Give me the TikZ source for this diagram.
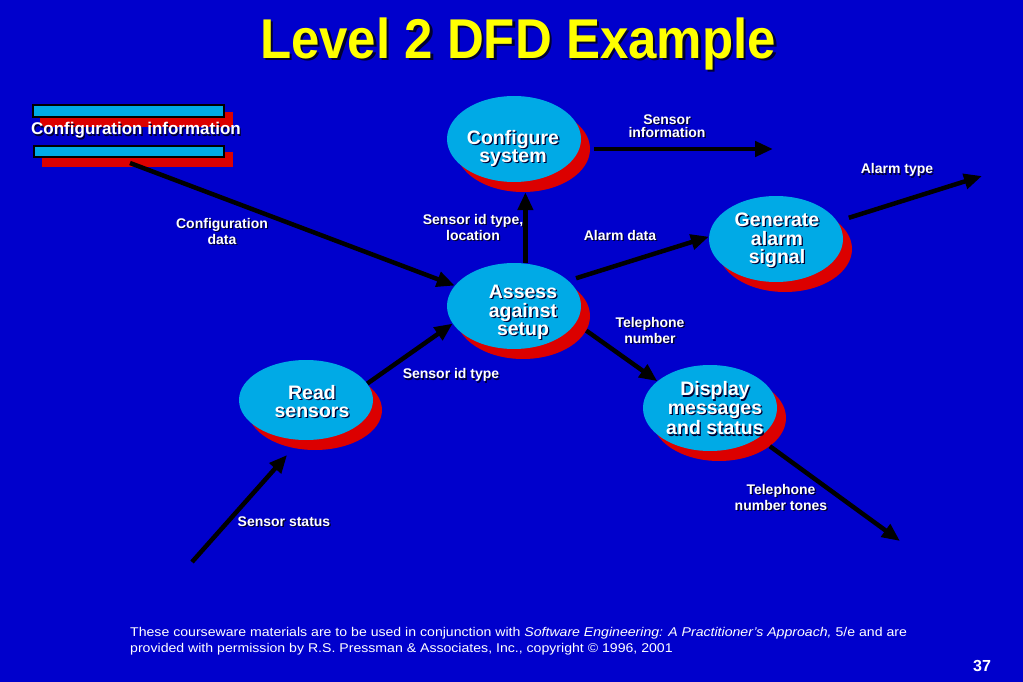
\documentclass[tikz,border=0pt]{standalone}
\usepackage{fontspec}
\setmainfont{Liberation Sans}
\usetikzlibrary{arrows.meta,shapes.geometric,calc}
\definecolor{bg}{RGB}{0,0,204}
\definecolor{procfill}{RGB}{0,170,230}
\definecolor{shadowred}{RGB}{220,0,0}
\definecolor{txtshade}{RGB}{0,0,50}
\definecolor{titleyellow}{RGB}{255,255,0}
\newcommand\shtxt[2][1.3pt]{\rlap{\kern#1\raisebox{-#1}{\textcolor{txtshade}{#2}}}#2}
\begin{document}
\begin{tikzpicture}[x=1pt,y=-1pt,
  proc/.style={ellipse,fill=procfill,minimum width=134pt,minimum height=86pt,inner sep=0pt},
  procsh/.style={ellipse,fill=shadowred,minimum width=134pt,minimum height=86pt,inner sep=0pt},
  proctext/.style={text=white,font=\bfseries\fontsize{19.5}{18.5}\selectfont,align=center,inner sep=0pt},
  flowlbl/.style={text=white,font=\bfseries\fontsize{14}{13}\selectfont,align=center,inner sep=0pt},
  flow/.style={line width=4.5pt,draw=black,-{Triangle[length=18pt,width=15pt]}},
  storebar/.style={fill=procfill,draw=black,line width=2pt},
  storesh/.style={fill=shadowred}]
\fill[bg] (0,0) rectangle (1023,682);
\useasboundingbox (0,0) rectangle (1023,682);

% title
\node[text=titleyellow,font=\bfseries\fontsize{51}{51}\selectfont,inner sep=0pt] (title) at (518,45) {\scalebox{1}[1.1]{\shtxt[2.5pt]{Level 2 DFD Example}}};

% data store
\fill[storesh] (40,112) rectangle (233,127);
\draw[storebar] (33,105) rectangle (224,117);
\fill[storesh] (42,152) rectangle (233,167);
\draw[storebar] (34,146) rectangle (224,157);
\node[text=white,font=\bfseries\fontsize{17}{17}\selectfont,inner sep=0pt] (storetext) at (136,131) {\shtxt{Configuration information}};
\coordinate (storeout) at (130,163);

% process shadows
\node[procsh] (cfgsh) at (523,149) {};
\node[procsh] (assesssh) at (523,316) {};
\node[procsh] (gensh) at (785,249) {};
\node[procsh] (dispsh) at (719,418) {};
\node[procsh,minimum height=80pt] (readsh) at (315,410) {};

% processes
\node[proc] (cfg) at (514,139) {};
\node[proc] (assess) at (514,306) {};
\node[proc] (gen) at (776,239) {};
\node[proc] (disp) at (710,408) {};
\node[proc,minimum height=80pt] (read) at (306,400) {};

\node[proctext] (cfgt) at (513,149) {\shtxt{Configure}\\\shtxt{system}};
\node[proctext] (assesst) at (523,313) {\shtxt{Assess}\\\shtxt{against}\\\shtxt{setup}};
\node[proctext] (gent) at (777,241) {\shtxt{Generate}\\\shtxt{alarm}\\\shtxt{signal}};
\node[proctext] (dispt) at (715,409) {\shtxt{Display}\\\shtxt{messages}\\\shtxt{and status}};
\node[proctext] (readt) at (312,402) {\shtxt{Read}\\\shtxt{sensors}};

% free ends
\coordinate (sinfoend) at (773,149);
\coordinate (alarmend) at (982,176);
\coordinate (toneend) at (900,541);
\coordinate (statusstart) at (192,562);

% flows
\draw[flow] (storeout) -- (assess.161);
\draw[flow] (read.15) -- (assess.196);
\draw[flow,shorten >=20pt] (statusstart) -- (read.262);
\draw[flow] (assess.75) -- (assess.75 |- cfgsh.south);
\draw[flow,shorten <=4pt] (cfgsh.east) -- (sinfoend);
\draw[flow,shorten <=8pt] (assess.25) -- (gen.178);
\draw[flow,shorten <=12pt] (gen.16) -- (alarmend);
\draw[flow] (assesssh.-13) -- (disp.153);
\draw[flow] (dispsh.-29) -- (toneend);

% flow labels
\node[flowlbl] (lcfgdata) at (222,232) {\shtxt{Configuration}\\\shtxt{data}};
\node[flowlbl] (lsidloc) at (473,228) {\shtxt{Sensor id type,}\\\shtxt{location}};
\node[flowlbl] (lsinfo) at (667,127) {\shtxt{Sensor}\\\shtxt{information}};
\node[flowlbl] (lalarmdata) at (620,236) {\shtxt{Alarm data}};
\node[flowlbl] (lalarmtype) at (897,171) {\shtxt{Alarm type}};
\node[flowlbl] (ltel) at (650,331) {\shtxt{Telephone}\\\shtxt{number}};
\node[flowlbl] (lsid) at (451,376) {\shtxt{Sensor id type}};
\node[flowlbl] (lstatus) at (284,522) {\shtxt{Sensor status}};
\node[flowlbl] (ltones) at (781,498) {\shtxt{Telephone}\\\shtxt{number tones}};

% footer
\node[anchor=west,text=white,font=\fontsize{14.1}{17.8}\selectfont,inner sep=0pt] (foot) at (130,641) {\scalebox{1}[0.9]{\begin{tabular}{@{}l@{}}These courseware materials are to be used in conjunction with \textit{Software Engineering: A Practitioner’s Approach,} 5/e and are\\provided with permission by R.S. Pressman \& Associates, Inc., copyright © 1996, 2001\end{tabular}}};
\node[text=white,font=\bfseries\fontsize{16}{16}\selectfont,inner sep=0pt] (pagenum) at (982,666) {37};
\end{tikzpicture}
\end{document}
